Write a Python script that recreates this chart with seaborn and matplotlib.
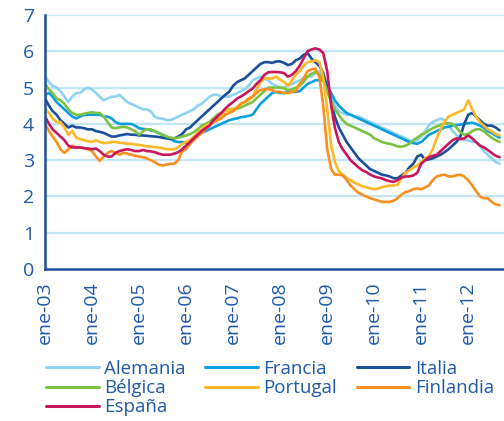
import matplotlib
matplotlib.use("Agg")
import matplotlib.pyplot as plt
import seaborn as sns
import pandas as pd

# monthly series, ene-2003 .. sep-2012
alemania = [5.3, 5.15, 5.05, 5.0, 4.9, 4.75, 4.6, 4.75, 4.85, 4.85, 4.95, 5.0,
            4.95, 4.85, 4.75, 4.65, 4.7, 4.75, 4.75, 4.8, 4.7, 4.6, 4.55, 4.5,
            4.45, 4.4, 4.4, 4.35, 4.2, 4.15, 4.15, 4.1, 4.1, 4.15, 4.2, 4.25,
            4.3, 4.35, 4.4, 4.5, 4.55, 4.65, 4.75, 4.8, 4.8, 4.75, 4.75, 4.75,
            4.8, 4.85, 4.9, 4.95, 5.05, 5.2, 5.25, 5.3, 5.25, 5.2, 5.1, 5.05,
            5.0, 5.0, 5.05, 5.1, 5.15, 5.2, 5.25, 5.3, 5.3, 5.4, 5.45, 5.3,
            5.0, 4.7, 4.5, 4.35, 4.3, 4.25, 4.25, 4.2, 4.2, 4.15, 4.1, 4.05,
            4.0, 3.95, 3.9, 3.85, 3.8, 3.75, 3.7, 3.65, 3.6, 3.55, 3.5, 3.55,
            3.65, 3.8, 3.95, 4.05, 4.1, 4.15, 4.1, 3.95, 3.8, 3.7, 3.6, 3.55,
            3.55, 3.5, 3.5, 3.4, 3.25, 3.15, 3.05, 2.95, 2.9]
francia = [4.8, 4.85, 4.75, 4.6, 4.5, 4.4, 4.3, 4.2, 4.15, 4.2, 4.25, 4.25,
           4.25, 4.25, 4.25, 4.2, 4.2, 4.15, 4.05, 4.0, 4.0, 4.0, 4.0, 3.95,
           3.88, 3.86, 3.85, 3.82, 3.8, 3.75, 3.7, 3.65, 3.6, 3.52, 3.5, 3.5,
           3.48, 3.5, 3.6, 3.7, 3.75, 3.8, 3.85, 3.9, 3.95, 4.0, 4.05, 4.1,
           4.13, 4.15, 4.18, 4.2, 4.22, 4.25, 4.4, 4.55, 4.65, 4.75, 4.85, 4.88,
           4.85, 4.85, 4.88, 4.88, 4.88, 4.9, 5.0, 5.1, 5.15, 5.2, 5.2, 5.2,
           5.05, 4.85, 4.65, 4.5, 4.4, 4.3, 4.25, 4.2, 4.15, 4.1, 4.05, 4.0,
           3.95, 3.9, 3.85, 3.8, 3.75, 3.7, 3.65, 3.6, 3.55, 3.5, 3.47, 3.45,
           3.5, 3.6, 3.7, 3.75, 3.8, 3.85, 3.9, 3.92, 3.95, 3.97, 3.98, 4.0,
           4.02, 4.03, 4.0, 3.95, 3.9, 3.8, 3.75, 3.68, 3.62]
italia = [4.7, 4.5, 4.35, 4.25, 4.1, 4.0, 3.9, 3.95, 3.9, 3.9, 3.88, 3.85,
          3.85, 3.8, 3.78, 3.75, 3.7, 3.65, 3.65, 3.68, 3.7, 3.72, 3.7, 3.7,
          3.68, 3.68, 3.67, 3.66, 3.65, 3.64, 3.62, 3.6, 3.58, 3.6, 3.65, 3.72,
          3.85, 3.9, 4.0, 4.1, 4.2, 4.3, 4.4, 4.5, 4.6, 4.7, 4.8, 4.88,
          5.05, 5.15, 5.2, 5.25, 5.35, 5.45, 5.55, 5.65, 5.7, 5.7, 5.68, 5.72,
          5.72, 5.68, 5.62, 5.65, 5.75, 5.8, 5.9, 5.95, 5.8, 5.7, 5.6, 5.4,
          5.0, 4.6, 4.2, 3.9, 3.7, 3.5, 3.35, 3.2, 3.05, 2.95, 2.85, 2.75,
          2.7, 2.65, 2.6, 2.58, 2.55, 2.5, 2.5, 2.58, 2.65, 2.8, 2.9, 3.1,
          3.15, 3.0, 3.02, 3.05, 3.1, 3.15, 3.22, 3.3, 3.4, 3.5, 3.65, 4.0,
          4.25, 4.3, 4.2, 4.1, 4.0, 3.95, 3.95, 3.9, 3.82]
belgica = [5.1, 4.95, 4.85, 4.7, 4.65, 4.55, 4.4, 4.3, 4.25, 4.25, 4.28, 4.3,
           4.32, 4.3, 4.3, 4.2, 4.05, 3.9, 3.88, 3.9, 3.92, 3.9, 3.85, 3.8,
           3.7, 3.8, 3.85, 3.85, 3.8, 3.75, 3.7, 3.65, 3.62, 3.6, 3.62, 3.65,
           3.68, 3.72, 3.77, 3.85, 3.95, 4.0, 4.05, 4.15, 4.25, 4.3, 4.35, 4.4,
           4.4, 4.42, 4.45, 4.5, 4.55, 4.6, 4.7, 4.8, 4.9, 5.0, 5.0, 5.0,
           5.0, 4.98, 4.93, 4.95, 4.99, 5.05, 5.15, 5.3, 5.38, 5.43, 5.35, 5.2,
           4.9, 4.6, 4.4, 4.25, 4.1, 4.0, 3.95, 3.9, 3.85, 3.8, 3.75, 3.7,
           3.6, 3.55, 3.5, 3.47, 3.45, 3.42, 3.38, 3.37, 3.4, 3.45, 3.55, 3.62,
           3.7, 3.75, 3.82, 3.88, 3.93, 3.97, 4.0, 4.02, 4.0, 3.9, 3.77, 3.7,
           3.72, 3.8, 3.85, 3.85, 3.8, 3.7, 3.62, 3.55, 3.5]
portugal = [4.4, 4.3, 4.15, 4.05, 4.05, 3.9, 3.7, 3.8, 3.62, 3.58, 3.55, 3.52,
            3.5, 3.55, 3.5, 3.47, 3.48, 3.5, 3.5, 3.48, 3.47, 3.45, 3.45, 3.43,
            3.42, 3.4, 3.38, 3.37, 3.36, 3.35, 3.33, 3.3, 3.3, 3.3, 3.35, 3.45,
            3.5, 3.55, 3.65, 3.75, 3.85, 3.95, 4.0, 4.05, 4.15, 4.25, 4.35, 4.38,
            4.42, 4.45, 4.55, 4.6, 4.65, 4.75, 4.95, 5.15, 5.25, 5.25, 5.25, 5.3,
            5.22, 5.15, 5.05, 5.2, 5.35, 5.45, 5.6, 5.7, 5.72, 5.75, 5.7, 5.3,
            4.4, 3.4, 2.95, 2.7, 2.6, 2.5, 2.45, 2.38, 2.33, 2.28, 2.25, 2.22,
            2.2, 2.22, 2.25, 2.28, 2.3, 2.3, 2.32, 2.5, 2.65, 2.72, 2.8, 2.85,
            2.95, 3.05, 3.1, 3.3, 3.6, 3.85, 4.05, 4.2, 4.25, 4.3, 4.35, 4.4,
            4.65, 4.4, 4.2, 4.05, 3.95, 3.85, 3.8, 3.72, 3.68]
finlandia = [4.0, 3.8, 3.65, 3.5, 3.3, 3.2, 3.3, 3.4, 3.35, 3.35, 3.33, 3.3,
             3.25, 3.1, 2.98, 3.1, 3.2, 3.25, 3.2, 3.15, 3.2, 3.18, 3.15, 3.12,
             3.1, 3.08, 3.05, 3.0, 2.95, 2.88, 2.85, 2.88, 2.9, 2.9, 3.0, 3.25,
             3.3, 3.45, 3.55, 3.65, 3.75, 3.85, 3.95, 4.05, 4.1, 4.15, 4.25, 4.3,
             4.35, 4.45, 4.55, 4.6, 4.7, 4.75, 4.85, 4.93, 4.95, 4.96, 4.93, 4.88,
             4.88, 4.85, 4.85, 4.88, 4.9, 5.1, 5.25, 5.45, 5.5, 5.52, 5.3, 4.5,
             3.3, 2.75, 2.6, 2.6, 2.58, 2.45, 2.3, 2.2, 2.1, 2.05, 2.0, 1.95,
             1.92, 1.88, 1.85, 1.85, 1.85, 1.88, 1.95, 2.05, 2.12, 2.15, 2.2, 2.22,
             2.2, 2.25, 2.3, 2.45, 2.55, 2.58, 2.6, 2.55, 2.55, 2.58, 2.6, 2.55,
             2.45, 2.3, 2.15, 2.0, 1.95, 1.95, 1.85, 1.78, 1.76]
espana = [4.2, 4.0, 3.85, 3.75, 3.65, 3.55, 3.4, 3.35, 3.35, 3.35, 3.33, 3.32,
          3.3, 3.32, 3.25, 3.15, 3.1, 3.1, 3.2, 3.25, 3.28, 3.3, 3.28, 3.25,
          3.25, 3.28, 3.25, 3.24, 3.22, 3.18, 3.15, 3.15, 3.15, 3.18, 3.22, 3.3,
          3.4, 3.5, 3.6, 3.7, 3.8, 3.88, 3.95, 4.1, 4.2, 4.3, 4.42, 4.52,
          4.6, 4.7, 4.75, 4.82, 4.9, 4.97, 5.1, 5.2, 5.35, 5.42, 5.43, 5.43,
          5.42, 5.4, 5.3, 5.35, 5.45, 5.6, 5.8, 6.0, 6.05, 6.08, 6.05, 5.95,
          5.45, 4.5, 3.9, 3.5, 3.3, 3.15, 3.0, 2.9, 2.8, 2.72, 2.67, 2.6,
          2.55, 2.52, 2.5, 2.45, 2.42, 2.4, 2.45, 2.52, 2.55, 2.55, 2.58, 2.65,
          2.9, 3.0, 3.08, 3.12, 3.15, 3.25, 3.35, 3.45, 3.55, 3.6, 3.58, 3.6,
          3.68, 3.6, 3.5, 3.4, 3.35, 3.28, 3.2, 3.12, 3.08]

countries = ["Alemania", "Francia", "Italia", "Bélgica", "Portugal", "Finlandia", "España"]
colors = ["#8fd3f2", "#0b9fe0", "#1a4f9e", "#7cc242", "#fdb827", "#f7901e", "#c8175d"]
tick_labels = ["ene-03", "ene-04", "ene-05", "ene-06", "ene-07",
               "ene-08", "ene-09", "ene-10", "ene-11", "ene-12"]

dates = pd.date_range("2003-01-01", periods=len(alemania), freq="MS")
series = [alemania, francia, italia, belgica, portugal, finlandia, espana]
df = pd.concat([pd.DataFrame({"fecha": dates, "valor": s, "pais": c})
                for c, s in zip(countries, series)], ignore_index=True)

text_col = "#1f5aa8"
axis_col = "#1d4f9c"
grid_col = "#c3e5f6"

sns.set_style("white")
plt.rcParams["font.family"] = ["Open Sans", "DejaVu Sans"]

fig = plt.figure(figsize=(5.04, 4.21), dpi=100)
ax = fig.add_axes([45 / 504, 1 - 269 / 421, 1 - 45 / 504, (269 - 15) / 421])

for y in range(1, 8):
    ax.axhline(y, color=grid_col, lw=1.7, zorder=0)

sns.lineplot(data=df, x="fecha", y="valor", hue="pais", hue_order=countries,
             palette=dict(zip(countries, colors)), lw=1.9, ax=ax, legend=False)

ax.set_ylim(0, 7)
ax.set_xlim(pd.Timestamp("2003-01-01"), pd.Timestamp("2012-10-05"))
ax.set_yticks(range(0, 8))
ax.set_xticks(pd.date_range("2003-01-01", periods=len(tick_labels), freq="YS"))
ax.set_xticklabels(tick_labels, rotation=90)
ax.set_xlabel("")
ax.set_ylabel("")
ax.tick_params(axis="both", colors=axis_col, labelcolor=text_col, labelsize=14,
               direction="out", length=5, width=1.6, pad=3)
ax.tick_params(axis="x", pad=4)
for side in ["top", "right"]:
    ax.spines[side].set_visible(False)
for side in ["left", "bottom"]:
    ax.spines[side].set_color(axis_col)
    ax.spines[side].set_linewidth(1.8)

# legend, row-major order as in the reference
handles = [plt.Line2D([], [], color=c, lw=2.2) for c in colors]
order = [0, 3, 6, 1, 4, 2, 5]
leg = fig.legend([handles[i] for i in order], [countries[i] for i in order],
                 ncol=3, loc="upper left", bbox_to_anchor=(46 / 504, 1 - 360 / 421),
                 frameon=False, fontsize=13.5, handlelength=2.8, handletextpad=0.3,
                 columnspacing=1.05, labelspacing=0.06, borderpad=0, borderaxespad=0)
for t in leg.get_texts():
    t.set_color(text_col)

fig.savefig("out.png", dpi=100)
plt.close(fig)
